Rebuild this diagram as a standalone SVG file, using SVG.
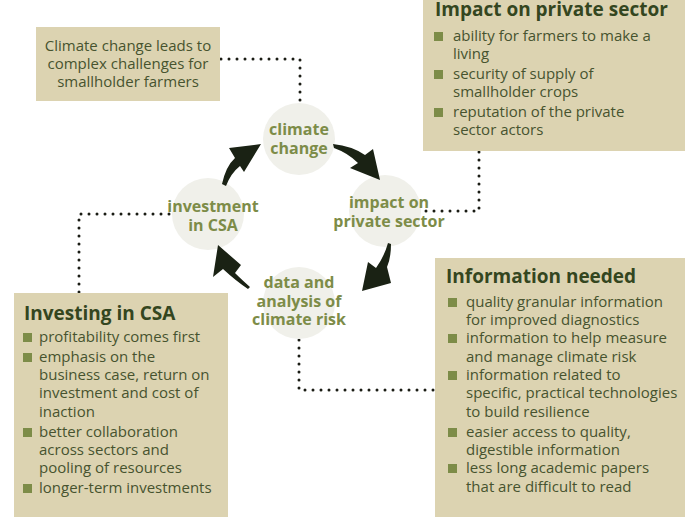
<svg xmlns="http://www.w3.org/2000/svg" width="685" height="517" viewBox="0 0 685 517">
<style>
.box{fill:#dcd3b1}
.circ{fill:#f0f0ea}
.ctext{font-family:"Open Sans","DejaVu Sans",sans-serif;font-weight:bold;font-size:16px;fill:#7d8c48;text-anchor:middle}
.title{font-family:"Open Sans","DejaVu Sans",sans-serif;font-weight:bold;font-size:19px;fill:#34461f}
.body{font-family:"Open Sans","DejaVu Sans",sans-serif;font-size:15px;fill:#47532f}
.bul{fill:#7d8c48}
.dots{fill:none;stroke:#1a1c14;stroke-width:3;stroke-linecap:round;stroke-dasharray:0 8}
.arrow{fill:#1a2214}
</style>
<g id="connectors">
<path class="dots" d="M221,59 H300 V103"/>
<path class="dots" d="M479,152 V211 H420"/>
<path class="dots" d="M79,292 V214 H173"/>
<path class="dots" d="M299,340 V390 H434"/>
</g>
<g id="box-climate-challenges">
<rect class="box" x="36" y="27" width="184" height="74"/>
<text class="body" text-anchor="middle"><tspan x="128" y="51">Climate change leads to</tspan><tspan x="128" y="69">complex challenges for</tspan><tspan x="128" y="87">smallholder farmers</tspan></text>
</g>
<g id="box-impact-private-sector">
<rect class="box" x="423" y="0" width="262" height="151"/>
<text class="title" x="435" y="15.5">Impact on private sector</text>
<rect class="bul" x="434" y="32" width="9" height="9"/>
<rect class="bul" x="434" y="70" width="9" height="9"/>
<rect class="bul" x="434" y="108" width="9" height="9"/>
<text class="body"><tspan x="453" y="41">ability for farmers to make a</tspan><tspan x="453" y="59">living</tspan><tspan x="453" y="79">security of supply of</tspan><tspan x="453" y="97">smallholder crops</tspan><tspan x="453" y="117">reputation of the private</tspan><tspan x="453" y="135">sector actors</tspan></text>
</g>
<g id="box-investing-csa">
<rect class="box" x="14" y="293" width="214" height="224"/>
<text class="title" x="24" y="319.5">Investing in CSA</text>
<rect class="bul" x="23" y="333" width="9" height="9"/>
<rect class="bul" x="23" y="353" width="9" height="9"/>
<rect class="bul" x="23" y="428" width="9" height="9"/>
<rect class="bul" x="23" y="484" width="9" height="9"/>
<text class="body"><tspan x="39" y="342">profitability comes first</tspan><tspan x="39" y="362">emphasis on the</tspan><tspan x="39" y="380">business case, return on</tspan><tspan x="39" y="398">investment and cost of</tspan><tspan x="39" y="417">inaction</tspan><tspan x="39" y="437">better collaboration</tspan><tspan x="39" y="455">across sectors and</tspan><tspan x="39" y="473">pooling of resources</tspan><tspan x="39" y="493">longer-term investments</tspan></text>
</g>
<g id="box-information-needed">
<rect class="box" x="435" y="258" width="250" height="259"/>
<text class="title" x="446" y="283">Information needed</text>
<rect class="bul" x="448" y="298" width="9" height="9"/>
<rect class="bul" x="448" y="334" width="9" height="9"/>
<rect class="bul" x="448" y="371" width="9" height="9"/>
<rect class="bul" x="448" y="428" width="9" height="9"/>
<rect class="bul" x="448" y="464" width="9" height="9"/>
<text class="body"><tspan x="466" y="307">quality granular information</tspan><tspan x="466" y="325">for improved diagnostics</tspan><tspan x="466" y="343">information to help measure</tspan><tspan x="466" y="362">and manage climate risk</tspan><tspan x="466" y="380">information related to</tspan><tspan x="466" y="398">specific, practical technologies</tspan><tspan x="466" y="417">to build resilience</tspan><tspan x="466" y="437">easier access to quality,</tspan><tspan x="466" y="455">digestible information</tspan><tspan x="466" y="473">less long academic papers</tspan><tspan x="466" y="492">that are difficult to read</tspan></text>
</g>
<g id="node-climate-change">
<circle class="circ" cx="299" cy="139" r="36"/>
<text class="ctext"><tspan x="299" y="135">climate</tspan><tspan x="299" y="154">change</tspan></text>
</g>
<g id="node-impact">
<circle class="circ" cx="385" cy="211" r="36"/>
<text class="ctext"><tspan x="389" y="208">impact on</tspan><tspan x="389" y="227">private sector</tspan></text>
</g>
<g id="node-data">
<circle class="circ" cx="299" cy="303" r="36"/>
<text class="ctext"><tspan x="299" y="288">data and</tspan><tspan x="299" y="307">analysis of</tspan><tspan x="299" y="325">climate risk</tspan></text>
</g>
<g id="node-investment">
<circle class="circ" cx="208" cy="214" r="36"/>
<text class="ctext"><tspan x="213" y="212">investment</tspan><tspan x="213" y="231">in CSA</tspan></text>
</g>
<g id="cycle-arrows">
<path class="arrow" d="M222,184 Q226,166 235,158 L229,148 L261,144 L244,172 L240,166 Q231,173 226,186 Z"/>
<path class="arrow" d="M333,144 Q352,146 365,155 L373,149 L380,180 L350,168 L358,163 Q348,153 334,148 Z"/>
<path class="arrow" d="M391,244 Q391,258 387,267 L391,283 L362,291 L368,262 L376,268 Q384,257 388,243 Z"/>
<path class="arrow" d="M250,287 Q241,279 235,273 L241,265 L218,245 L213,277 L223,269 Q236,281 248,289 Z"/>
</g>
</svg>
